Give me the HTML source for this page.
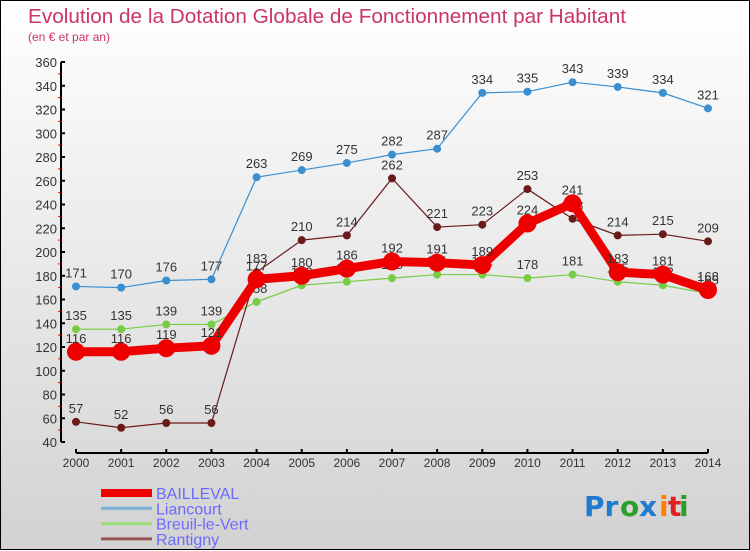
<!DOCTYPE html>
<html><head><meta charset="utf-8"><style>
body{margin:0;width:750px;height:550px;overflow:hidden;font-family:"Liberation Sans",sans-serif}
#wrap{position:relative;width:748px;height:548px;border:1px solid #000;background:linear-gradient(#ffffff,#d2d2d2)}
svg{position:absolute;left:0;top:0}
</style></head><body>
<div id="wrap">
<svg id="chart" width="750" height="550">
<text x="27" y="22" font-size="20" fill="#cc3366" textLength="598" lengthAdjust="spacingAndGlyphs">Evolution de la Dotation Globale de Fonctionnement par Habitant</text>
<text x="27" y="40" font-size="12" fill="#cc3366">(en € et par an)</text>
<g font-size="28" font-weight="bold" font-family="'DejaVu Sans',sans-serif">
<text x="583" y="515" fill="#1e7bd0">Pr</text><text x="619" y="515" fill="#2aa02a">o</text><text x="638" y="515" fill="#1e7bd0">x</text><text x="658" y="515" fill="#ff7f00">i</text><text x="667" y="515" fill="#e02020">t</text><text x="678" y="515" fill="#2aa02a">i</text>
</g>
</svg>
</div>
<script>
const years=["2000","2001","2002","2003","2004","2005","2006","2007","2008","2009","2010","2011","2012","2013","2014"];
const yTicks=[40,60,80,100,120,140,160,180,200,220,240,260,280,300,320,340,360];
const bailleval=[116,116,119,121,177,180,186,192,191,189,224,241,183,181,168];
const liancourt=[171,170,176,177,263,269,275,282,287,334,335,343,339,334,321];
const breuil=[135,135,139,139,158,172,175,178,181,181,178,181,175,172,165];
const rantigny=[57,52,56,56,183,210,214,262,221,223,253,228,214,215,209];
const seriesNames=["BAILLEVAL","Liancourt","Breuil-le-Vert","Rantigny"];

const NS="http://www.w3.org/2000/svg";
const svg=document.getElementById('chart');
const x=i=>75+i*(707-75)/(years.length-1);
const y=v=>441-(v-40)*(380/320);
function mk(t,a,p){const e=document.createElementNS(NS,t);for(const k in a)e.setAttribute(k,a[k]);(p||svg).appendChild(e);return e;}

const axes=mk('g',{});


mk('line',{x1:60,y1:y(360),x2:60,y2:y(40),stroke:'#000','stroke-width':2},axes);
mk('line',{x1:75,y1:452,x2:707,y2:452,stroke:'#000','stroke-width':2},axes);
yTicks.forEach((v,i)=>{
  mk('line',{x1:60,y1:y(v),x2:64,y2:y(v),stroke:'#000','stroke-width':2},axes);
  if(i<yTicks.length-1) mk('line',{x1:57,y1:y(v+10),x2:60,y2:y(v+10),stroke:'#e00','stroke-width':1},axes);
  const t=mk('text',{x:56,y:y(v)+5,'text-anchor':'end','font-size':13,fill:'#333'},axes);
  
  
  t.textContent=v;
});
years.forEach((yr,i)=>{
  mk('line',{x1:x(i),y1:448,x2:x(i),y2:452,stroke:'#000','stroke-width':2},axes);
  const t=mk('text',{x:x(i),y:466,'text-anchor':'middle','font-size':12,fill:'#333'},axes);
  
  
  t.textContent=yr;
});

function drawSeries(vals,color,lw,r,name){
  const g=mk('g',{});
  
  
  mk('polyline',{points:vals.map((v,i)=>x(i)+','+y(v)).join(' '),fill:'none',stroke:color,'stroke-width':lw,'stroke-linejoin':'round'},g);
  vals.forEach((v,i)=>{
    const c=mk('circle',{cx:x(i),cy:y(v),r:r,fill:color},g);
    
    
    const t=mk('text',{x:x(i),y:y(v)-9,'text-anchor':'middle','font-size':13,fill:'#333'},g);
    
    
    t.textContent=v;
  });
}
drawSeries(liancourt,'#3a8fd0',1.2,4,'liancourt-series');
drawSeries(breuil,'#77cc44',1.2,4,'breuil-series');
drawSeries(rantigny,'#6b1a1a',1.2,4,'rantigny-series');
drawSeries(bailleval,'#ee0000',9,9,'bailleval-series');

const colors=['#ee0000','#7ab0d8','#99dd77','#9a5555'];
const widths=[8,3,3,3];
const lg=mk('g',{});


seriesNames.forEach((n,i)=>{
  const yy=492+i*15.3;
  const e=mk('g',{},lg);
  
  
  mk('line',{x1:100,y1:yy,x2:151,y2:yy,stroke:colors[i],'stroke-width':widths[i]},e);
  const t=mk('text',{x:155,y:yy+6,'font-size':16,fill:'#6b6bff'},e);
  t.textContent=n;
});
</script>
</body></html>
